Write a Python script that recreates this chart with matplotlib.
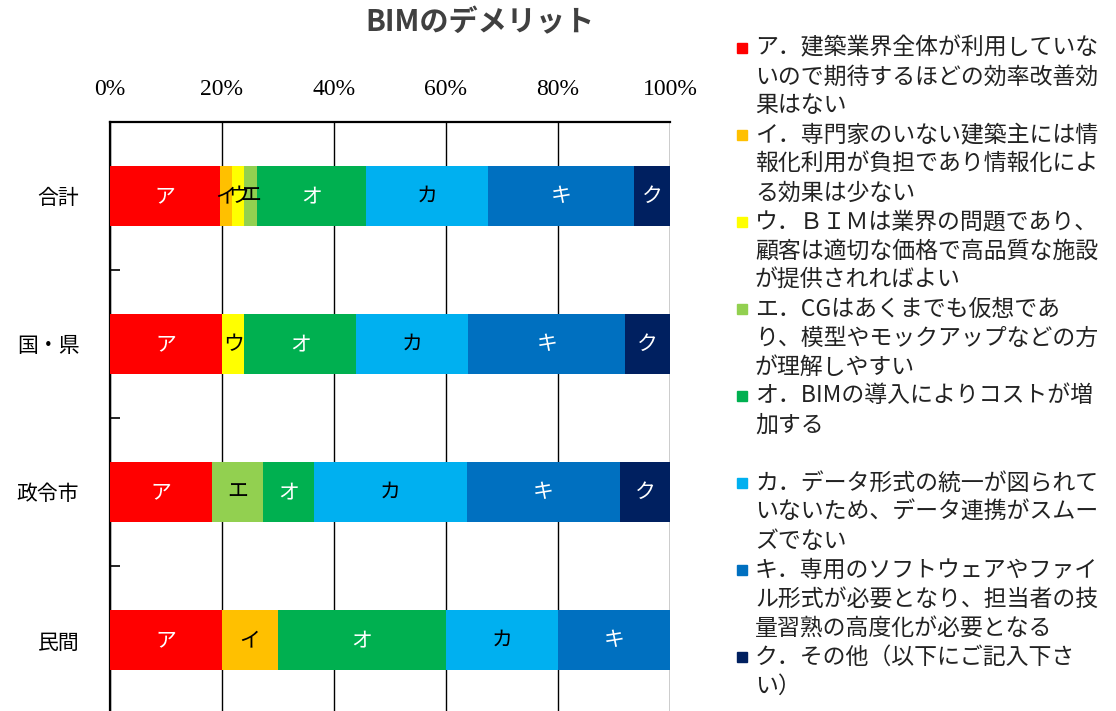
import matplotlib
matplotlib.use("Agg")
import matplotlib.pyplot as plt
from matplotlib.patches import Rectangle
import numpy as np

plt.rcParams["font.family"] = ["Noto Sans CJK JP", "DejaVu Sans"]

# rows (top to bottom) and answer options
groups = ["合計", "国・県", "政令市", "民間"]
options = ["ア", "イ", "ウ", "エ", "オ", "カ", "キ", "ク"]

# share of each option per row, in %
pct_a = [19.6, 20.0, 18.2, 20.0]
pct_i = [2.2, 0.0, 0.0, 10.0]
pct_u = [2.2, 4.0, 0.0, 0.0]
pct_e = [2.2, 0.0, 9.1, 0.0]
pct_o = [19.6, 20.0, 9.1, 30.0]
pct_ka = [21.7, 20.0, 27.3, 20.0]
pct_ki = [26.1, 28.0, 27.3, 20.0]
pct_ku = [6.5, 8.0, 9.1, 0.0]
series = [pct_a, pct_i, pct_u, pct_e, pct_o, pct_ka, pct_ki, pct_ku]

xticks = [0, 20, 40, 60, 80, 100]
xticklabels = ["0%", "20%", "40%", "60%", "80%", "100%"]

legend_lines = [
    ["ア．建築業界全体が利用していな", "いので期待するほどの効率改善効", "果はない"],
    ["イ．専門家のいない建築主には情", "報化利用が負担であり情報化によ", "る効果は少ない"],
    ["ウ．ＢＩＭは業界の問題であり、", "顧客は適切な価格で高品質な施設", "が提供されればよい"],
    ["エ．CGはあくまでも仮想であ", "り、模型やモックアップなどの方", "が理解しやすい"],
    ["オ．BIMの導入によりコストが増", "加する", ""],
    ["カ．データ形式の統一が図られて", "いないため、データ連携がスムー", "ズでない"],
    ["キ．専用のソフトウェアやファイ", "ル形式が必要となり、担当者の技", "量習熟の高度化が必要となる"],
    ["ク．その他（以下にご記入下さ", "い）"],
]

colors = ["#FF0000", "#FFC000", "#FFFF00", "#92D050",
          "#00B050", "#00B0F0", "#0070C0", "#002060"]
text_colors = ["white", "black", "black", "black",
               "white", "black", "white", "white"]

W, H = 1116, 711
fig = plt.figure(figsize=(W / 100, H / 100), dpi=100)
ax = fig.add_axes([110 / W, (H - 714) / H, 560 / W, 592 / H])

y = np.arange(len(groups))
left = np.zeros(len(groups))
for vals, c, tc, name in zip(series, colors, text_colors, options):
    vals = np.array(vals)
    ax.barh(y, vals, left=left, height=0.4, color=c, zorder=3)
    for yi, v, l in zip(y, vals, left):
        if v > 0:
            ax.text(l + v / 2, yi, name, ha="center", va="center",
                    fontsize=15, color=tc, zorder=4)
    left = left + vals

ax.set_xlim(0, 100)
ax.set_ylim(3.5, -0.5)
ax.xaxis.tick_top()
ax.set_xticks(xticks)
ax.set_xticklabels(xticklabels, family="Liberation Serif", fontsize=17)
ax.tick_params(axis="x", length=0, pad=16)
ax.set_yticks(y)
ax.set_yticklabels(groups, fontsize=15)
ax.set_yticks([0.5, 1.5, 2.5], minor=True)
ax.tick_params(axis="y", which="major", length=0, pad=22)
ax.tick_params(axis="y", which="minor", direction="in", length=7, width=1.2)
ax.grid(axis="x", color="black", lw=1, zorder=0)
ax.set_axisbelow(True)
for s in ["right", "bottom"]:
    ax.spines[s].set_visible(False)
for s in ["top", "left"]:
    ax.spines[s].set_linewidth(1.6)

fig.text(480 / W, 1 - 22 / H, "BIMのデメリット", ha="center", va="center",
         fontsize=21, fontweight="bold", color="#404040")

# legend drawn line by line
line_y0 = 48
line_step = 29.0
row = 0
for c, lines in zip(colors, legend_lines):
    yy = line_y0 + row * line_step
    fig.add_artist(Rectangle((737 / W, 1 - (yy + 5) / H), 10 / W, 10 / H,
                             transform=fig.transFigure, color=c))
    for k, t in enumerate(lines):
        fig.text(755 / W, 1 - (line_y0 + (row + k) * line_step) / H, t,
                 ha="left", va="center", fontsize=16.5, color="#222222")
    row += len(lines)

fig.savefig("out.png", dpi=100)
